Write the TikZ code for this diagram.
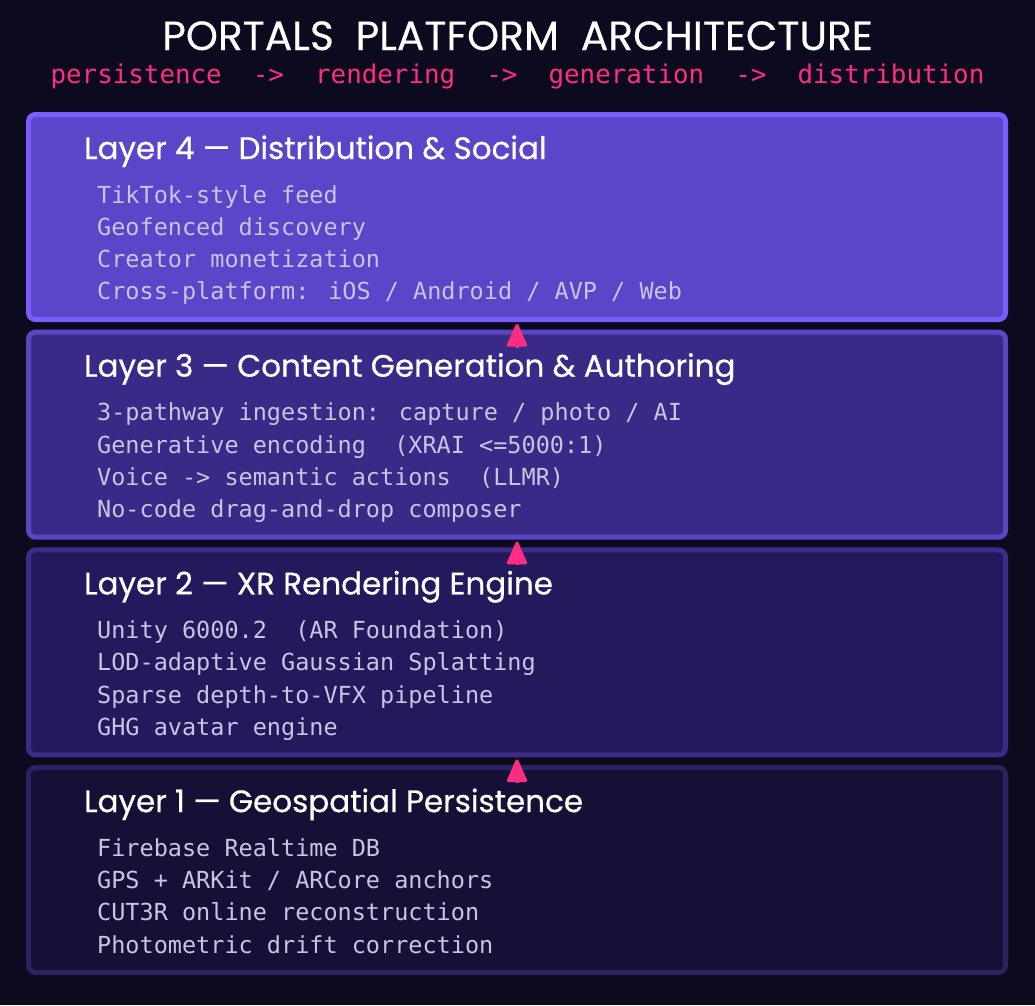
\documentclass[tikz,border=0pt]{standalone}
\usepackage{fontspec}
\setmainfont{Poppins}
\newfontfamily\monof{DejaVu Sans Mono}
\newfontfamily\headf{Poppins}[FakeBold=0.6]
\newfontfamily\titlef{Poppins}[FakeBold=0.3]
\usetikzlibrary{calc,arrows.meta}
\definecolor{bgc}{HTML}{0B0A1F}
\definecolor{pinkc}{HTML}{FF2D7F}
\definecolor{bodyc}{HTML}{CAC3E2}
\definecolor{fillD}{HTML}{5B45C8}
\definecolor{drawD}{HTML}{7A5CFF}
\definecolor{fillC}{HTML}{3A2986}
\definecolor{drawC}{HTML}{5A45C2}
\definecolor{fillB}{HTML}{221A5C}
\definecolor{drawB}{HTML}{3B2C88}
\definecolor{fillA}{HTML}{151036}
\definecolor{drawA}{HTML}{2B2262}
\begin{document}
\begin{tikzpicture}[x=1pt,y=-1pt,
  layerbox/.style={rectangle, rounded corners=7pt, line width=5pt, minimum width=977pt, minimum height=205pt, inner sep=0pt},
  headtext/.style={anchor=base west, inner sep=0pt, text=white, font=\headf\fontsize{31}{34}\selectfont},
  bodytext/.style={anchor=base west, inner sep=0pt, text=bodyc, font=\monof\fontsize{23.5}{28}\selectfont},
  upflow/.style={draw=pinkc, fill=pinkc, line width=3pt, -{Triangle[round, length=25pt, width=21pt]}}
]
\fill[bgc] (0,0) rectangle (1035,1005);
\useasboundingbox (0,0) rectangle (1035,1005);

\node[anchor=base, inner sep=0pt, text=white, font=\titlef\fontsize{40.8}{44}\selectfont] (title) at (517.5,50) {PORTALS\ \ PLATFORM\ \ ARCHITECTURE};
\node[anchor=base, inner sep=0pt, text=pinkc, font=\monof\fontsize{25.85}{30}\selectfont] (sub) at (517.5,83) {persistence\ \ ->\ \ rendering\ \ ->\ \ generation\ \ ->\ \ distribution};

% boxes
\node[layerbox, draw=drawD, fill=fillD] (b4) at (517,217) {};
\node[layerbox, draw=drawC, fill=fillC] (b3) at (517,434.7) {};
\node[layerbox, draw=drawB, fill=fillB] (b2) at (517,652.4) {};
\node[layerbox, draw=drawA, fill=fillA] (b1) at (517,870.1) {};

% Layer 4
\node[headtext] (h4) at (84,159) {Layer 4 — Distribution \& Social};
\node[bodytext] (l4a) at (97,203) {TikTok-style feed};
\node[bodytext] (l4b) at (97,235.3) {Geofenced discovery};
\node[bodytext] (l4c) at (97,267.6) {Creator monetization};
\node[bodytext] (l4d) at (97,299.9) {Cross-platform: iOS / Android / AVP / Web};

% Layer 3
\node[headtext] (h3) at (84,376.7) {Layer 3 — Content Generation \& Authoring};
\node[bodytext] (l3a) at (97,420.7) {3-pathway ingestion: capture / photo / AI};
\node[bodytext] (l3b) at (97,453) {Generative encoding\ \ (XRAI <=5000:1)};
\node[bodytext] (l3c) at (97,485.3) {Voice -> semantic actions\ \ (LLMR)};
\node[bodytext] (l3d) at (97,517.6) {No-code drag-and-drop composer};

% Layer 2
\node[headtext] (h2) at (84,594.4) {Layer 2 — XR Rendering Engine};
\node[bodytext] (l2a) at (97,638.4) {Unity 6000.2\ \ (AR Foundation)};
\node[bodytext] (l2b) at (97,670.7) {LOD-adaptive Gaussian Splatting};
\node[bodytext] (l2c) at (97,703) {Sparse depth-to-VFX pipeline};
\node[bodytext] (l2d) at (97,735.3) {GHG avatar engine};

% Layer 1
\node[headtext] (h1) at (84,812.1) {Layer 1 — Geospatial Persistence};
\node[bodytext] (l1a) at (97,856.1) {Firebase Realtime DB};
\node[bodytext] (l1b) at (97,888.4) {GPS + ARKit / ARCore anchors};
\node[bodytext] (l1c) at (97,920.7) {CUT3R online reconstruction};
\node[bodytext] (l1d) at (97,953) {Photometric drift correction};

% flow arrows
\draw[upflow] ($(b1.north)+(0,18)$) -- ($(b2.south)+(0,2)$);
\draw[upflow] ($(b2.north)+(0,18)$) -- ($(b3.south)+(0,2)$);
\draw[upflow] ($(b3.north)+(0,18)$) -- ($(b4.south)+(0,2)$);
\end{tikzpicture}
\end{document}
